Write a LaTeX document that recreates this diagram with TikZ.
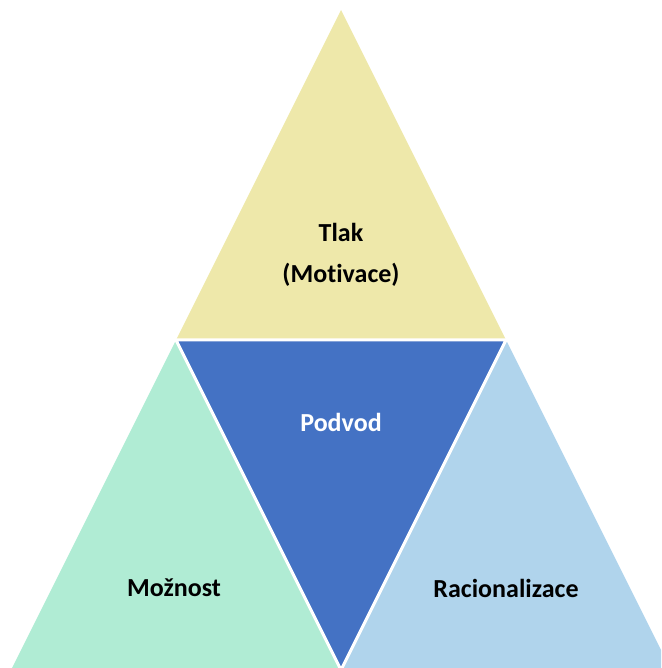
\documentclass[tikz,border=0pt]{standalone}
\usepackage{fontspec}
\setmainfont[Ligatures=NoCommon]{Carlito}
\definecolor{cyel}{RGB}{238,232,170}
\definecolor{cmint}{RGB}{176,236,212}
\definecolor{clblue}{RGB}{176,212,236}
\definecolor{cblue}{RGB}{68,114,196}
\begin{document}
\begin{tikzpicture}[x=1pt,y=1pt,
  tri/.style={draw=white,line width=3pt,line join=miter},
  lbl/.style={font=\fontsize{26}{41}\selectfont\bfseries,align=center,inner sep=0pt}]
\useasboundingbox (0,0) rectangle (661,668);
\clip (0,0) rectangle (661,668);
\coordinate (T) at (341,658);
\coordinate (ML) at (176,328);
\coordinate (MR) at (506,328);
\coordinate (BL) at (11,-2);
\coordinate (BM) at (341,-2);
\coordinate (BR) at (671,-2);
\fill[cyel] (T) -- (ML) -- (MR) -- cycle;
\fill[cmint] (ML) -- (BL) -- (BM) -- cycle;
\fill[clblue] (MR) -- (BM) -- (BR) -- cycle;
\fill[cblue] (ML) -- (MR) -- (BM) -- cycle;
\draw[tri] (ML) -- (MR) -- (BM) -- cycle;
\node[lbl] (tlak) at (341,413) {Tlak\\(Motivace)};
\node[lbl,text=white] (podvod) at (341,246) {Podvod};
\node[lbl] (moznost) at (174,80) {Možnost};
\node[lbl] (rac) at (506,80) {Racionalizace};
\end{tikzpicture}
\end{document}
